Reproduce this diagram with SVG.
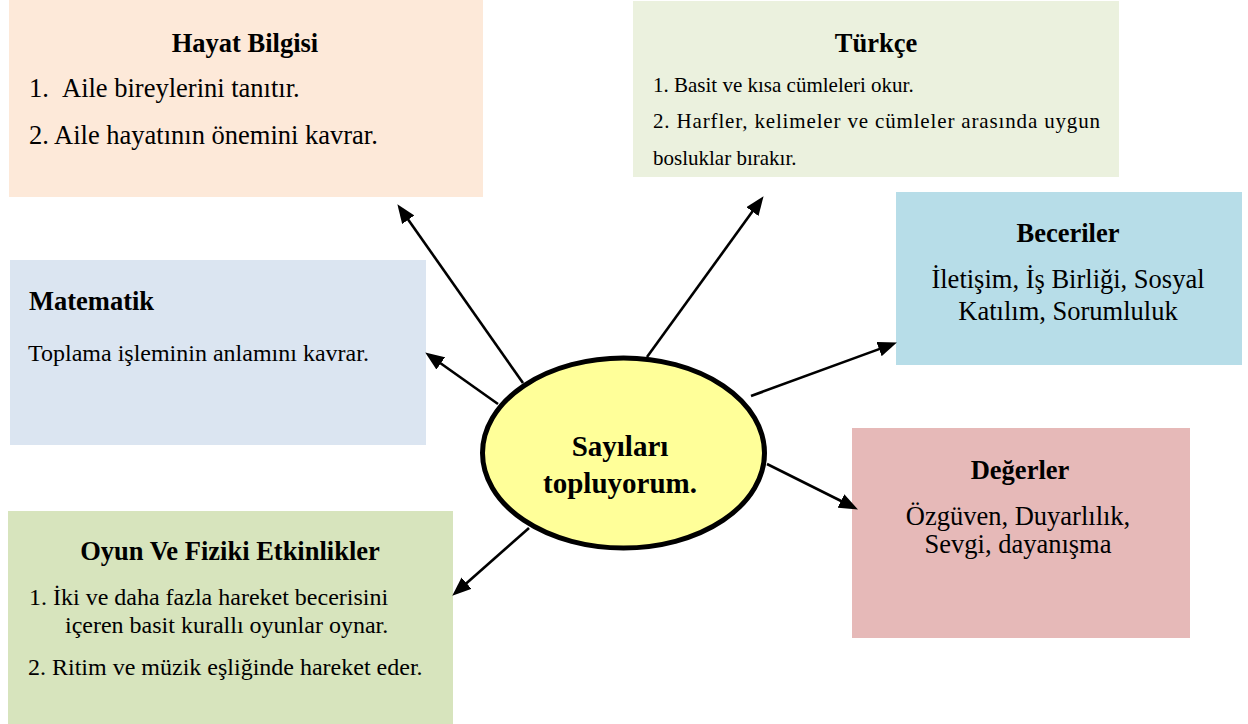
<svg xmlns="http://www.w3.org/2000/svg" width="1248" height="724" viewBox="0 0 1248 724">
<style>
text{font-family:"Liberation Serif","Times New Roman",serif;fill:#000;}
.t{font-weight:bold;font-size:26.5px;}
.b{font-size:26.5px;}
.s{font-size:21px;}
.m{font-size:24px;}
.c{text-anchor:middle;}
.ln{stroke:#000;stroke-width:2.6;fill:none;marker-end:url(#ah);}
</style>
<defs>
<marker id="ah" viewBox="0 0 19 15" refX="8" refY="7.5" markerWidth="19" markerHeight="15" markerUnits="userSpaceOnUse" orient="auto">
<path d="M0,0 L19,7.5 L0,15 Z" fill="#000"/>
</marker>
</defs>
<rect width="1248" height="724" fill="#fff"/>
<g id="hayat">
<rect x="9" y="0" width="474" height="197" fill="#fde9d9"/>
<text class="t c" x="245" y="52">Hayat Bilgisi</text>
<text class="b" x="29" y="97">1.</text>
<text class="b" x="62" y="97">Aile bireylerini tanıtır.</text>
<text class="b" x="29" y="144">2. Aile hayatının önemini kavrar.</text>
</g>
<g id="turkce">
<rect x="633" y="1" width="486" height="176" fill="#ebf1de"/>
<text class="t c" x="876" y="52">Türkçe</text>
<text class="s" x="653" y="92">1. Basit ve kısa cümleleri okur.</text>
<text class="s" x="653" y="128" textLength="447" lengthAdjust="spacing">2. Harfler, kelimeler ve cümleler arasında uygun</text>
<text class="s" x="653" y="165">bosluklar bırakır.</text>
</g>
<g id="matematik">
<rect x="10" y="260" width="416" height="185" fill="#dbe5f1"/>
<text class="t" x="29" y="310">Matematik</text>
<text class="m" x="28" y="361">Toplama işleminin anlamını kavrar.</text>
</g>
<g id="beceriler">
<rect x="896" y="192" width="346" height="173" fill="#b7dde8"/>
<text class="t c" x="1068" y="242">Beceriler</text>
<text class="b c" x="1068" y="288">İletişim, İş Birliği, Sosyal</text>
<text class="b c" x="1068" y="320">Katılım, Sorumluluk</text>
</g>
<g id="degerler">
<rect x="852" y="428" width="338" height="210" fill="#e6b9b8"/>
<text class="t c" x="1020" y="479">Değerler</text>
<text class="b c" x="1018" y="525">Özgüven, Duyarlılık,</text>
<text class="b c" x="1018" y="553">Sevgi, dayanışma</text>
</g>
<g id="oyun">
<rect x="8" y="511" width="445" height="213" fill="#d7e4bd"/>
<text class="t c" x="230" y="560">Oyun Ve Fiziki Etkinlikler</text>
<text class="m" x="29" y="605">1. İki ve daha fazla hareket becerisini</text>
<text class="m" x="65" y="633">içeren basit kurallı oyunlar oynar.</text>
<text class="m" x="28" y="675">2. Ritim ve müzik eşliğinde hareket eder.</text>
</g>
<g id="connectors">
<line class="ln" x1="523" y1="383" x2="403.7" y2="213.2"/>
<line class="ln" x1="498" y1="404" x2="434.2" y2="358.8"/>
<line class="ln" x1="647" y1="357" x2="757.1" y2="205.1"/>
<line class="ln" x1="751" y1="396" x2="886.6" y2="346.4"/>
<line class="ln" x1="767" y1="464" x2="848.1" y2="504.5"/>
<line class="ln" x1="529" y1="528" x2="460.5" y2="588.4"/>
</g>
<g id="center">
<ellipse cx="623.5" cy="453" rx="141" ry="95" fill="#ffff99" stroke="#000" stroke-width="5"/>
<text class="c" x="620" y="456" style="font-weight:bold;font-size:29px">Sayıları</text>
<text class="c" x="620" y="493" style="font-weight:bold;font-size:29px">topluyorum.</text>
</g>
</svg>
